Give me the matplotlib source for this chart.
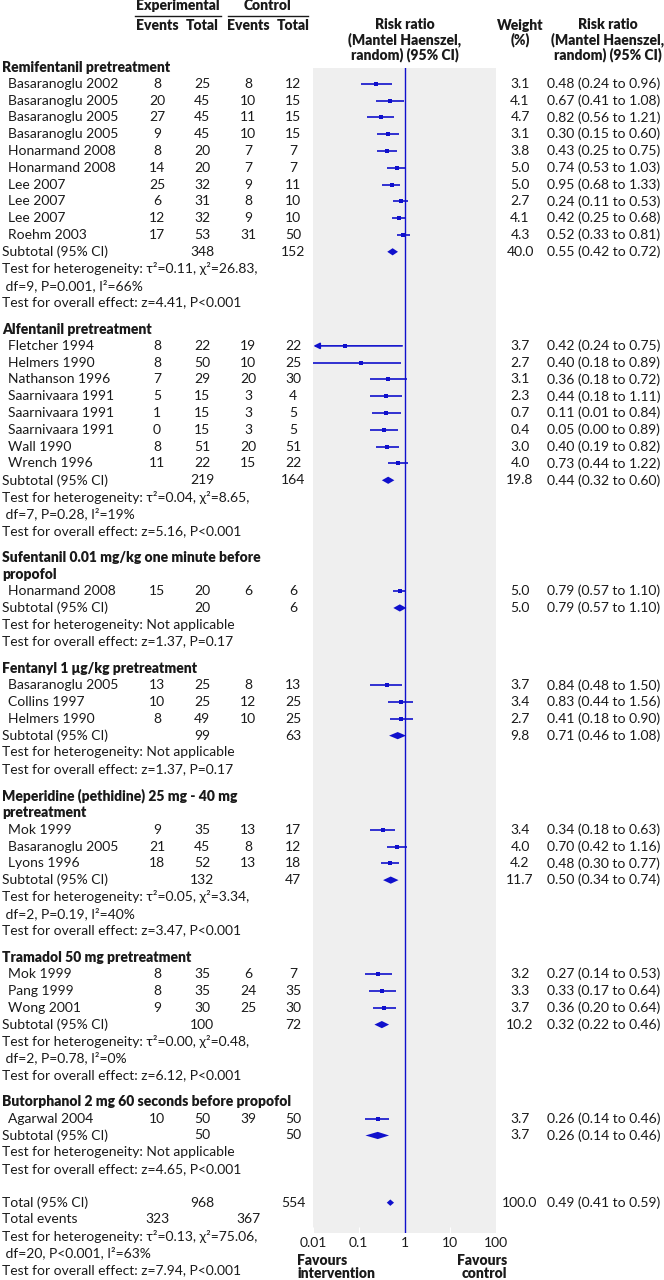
import matplotlib
matplotlib.use("Agg")
from matplotlib import pyplot as plt

# ---- data ----
group_titles = [
    "Remifentanil pretreatment",
    "Alfentanil pretreatment",
    "Sufentanil 0.01 mg/kg one minute before\npropofol",
    "Fentanyl 1 \u03bcg/kg pretreatment",
    "Meperidine (pethidine) 25 mg - 40 mg\npretreatment",
    "Tramadol 50 mg pretreatment",
    "Butorphanol 2 mg 60 seconds before propofol",
]

study_group = [0] * 10 + [1] * 8 + [2] + [3] * 3 + [4] * 3 + [5] * 3 + [6]
study_names = [
    "Basaranoglu 2002", "Basaranoglu 2005", "Basaranoglu 2005", "Basaranoglu 2005",
    "Honarmand 2008", "Honarmand 2008", "Lee 2007", "Lee 2007", "Lee 2007", "Roehm 2003",
    "Fletcher 1994", "Helmers 1990", "Nathanson 1996", "Saarnivaara 1991",
    "Saarnivaara 1991", "Saarnivaara 1991", "Wall 1990", "Wrench 1996",
    "Honarmand 2008",
    "Basaranoglu 2005", "Collins 1997", "Helmers 1990",
    "Mok 1999", "Basaranoglu 2005", "Lyons 1996",
    "Mok 1999", "Pang 1999", "Wong 2001",
    "Agarwal 2004",
]
exp_events = [8, 20, 27, 9, 8, 14, 25, 6, 12, 17, 8, 8, 7, 5, 1, 0, 8, 11, 15, 13, 10, 8, 9, 21, 18, 8, 8, 9, 10]
exp_total = [25, 45, 45, 45, 20, 20, 32, 31, 32, 53, 22, 50, 29, 15, 15, 15, 51, 22, 20, 25, 25, 49, 35, 45, 52, 35, 35, 30, 50]
ctrl_events = [8, 10, 11, 10, 7, 7, 9, 8, 9, 31, 19, 10, 20, 3, 3, 3, 20, 15, 6, 8, 12, 10, 13, 8, 13, 6, 24, 25, 39]
ctrl_total = [12, 15, 15, 15, 7, 7, 11, 10, 10, 50, 22, 25, 30, 4, 5, 5, 51, 22, 6, 13, 25, 25, 17, 12, 18, 7, 35, 30, 50]
weight = [3.1, 4.1, 4.7, 3.1, 3.8, 5.0, 5.0, 2.7, 4.1, 4.3, 3.7, 2.7, 3.1, 2.3, 0.7, 0.4, 3.0, 4.0,
          5.0, 3.7, 3.4, 2.7, 3.4, 4.0, 4.2, 3.2, 3.3, 3.7, 3.7]
rr = [0.48, 0.67, 0.82, 0.30, 0.43, 0.74, 0.95, 0.24, 0.42, 0.52, 0.42, 0.40, 0.36, 0.44, 0.11, 0.05,
      0.40, 0.73, 0.79, 0.84, 0.83, 0.41, 0.34, 0.70, 0.48, 0.27, 0.33, 0.36, 0.26]
rr_lo = [0.24, 0.41, 0.56, 0.15, 0.25, 0.53, 0.68, 0.11, 0.25, 0.33, 0.24, 0.18, 0.18, 0.18, 0.01, 0.00,
         0.19, 0.44, 0.57, 0.48, 0.44, 0.18, 0.18, 0.42, 0.30, 0.14, 0.17, 0.20, 0.14]
rr_hi = [0.96, 1.08, 1.21, 0.60, 0.75, 1.03, 1.33, 0.53, 0.68, 0.81, 0.75, 0.89, 0.72, 1.11, 0.84, 0.89,
         0.82, 1.22, 1.10, 1.50, 1.56, 0.90, 0.63, 1.16, 0.77, 0.53, 0.64, 0.64, 0.46]
# in the published figure the marks of a group are drawn in a different row order
# than the table text; index of the study (within its group) drawn on each row
mark_order = [
    [7, 0, 3, 4, 8, 1, 9, 2, 5, 6],
    [5, 4, 3, 1, 6, 2, 0, 7],
    [0],
    [2, 1, 0],
    [0, 1, 2],
    [0, 1, 2],
    [0],
]

sub_exp_total = [348, 219, 20, 99, 132, 100, 50]
sub_ctrl_total = [152, 164, 6, 63, 47, 72, 50]
sub_weight = [40.0, 19.8, 5.0, 9.8, 11.7, 10.2, 3.7]
sub_rr = [0.55, 0.44, 0.79, 0.71, 0.50, 0.32, 0.26]
sub_lo = [0.42, 0.32, 0.57, 0.46, 0.34, 0.22, 0.14]
sub_hi = [0.72, 0.60, 1.10, 1.08, 0.74, 0.46, 0.46]
het_lines = [
    ["Test for heterogeneity: \u03c4\u00b2=0.11, \u03c7\u00b2=26.83,", " df=9, P=0.001, I\u00b2=66%"],
    ["Test for heterogeneity: \u03c4\u00b2=0.04, \u03c7\u00b2=8.65,", " df=7, P=0.28, I\u00b2=19%"],
    ["Test for heterogeneity: Not applicable"],
    ["Test for heterogeneity: Not applicable"],
    ["Test for heterogeneity: \u03c4\u00b2=0.05, \u03c7\u00b2=3.34,", " df=2, P=0.19, I\u00b2=40%"],
    ["Test for heterogeneity: \u03c4\u00b2=0.00, \u03c7\u00b2=0.48,", " df=2, P=0.78, I\u00b2=0%"],
    ["Test for heterogeneity: Not applicable"],
]
effect_text = ["z=4.41, P<0.001", "z=5.16, P<0.001", "z=1.37, P=0.17", "z=1.37, P=0.17",
               "z=3.47, P<0.001", "z=6.12, P<0.001", "z=4.65, P<0.001"]

total_exp, total_ctrl = 968, 554
total_events_exp, total_events_ctrl = 323, 367
total_weight = 100.0
total_rr, total_lo, total_hi = 0.49, 0.41, 0.59
total_het = ["Test for heterogeneity: \u03c4\u00b2=0.13, \u03c7\u00b2=75.06,", " df=20, P<0.001, I\u00b2=63%"]
total_effect = "z=7.94, P<0.001"

ticks = [0.01, 0.1, 1, 10, 100]
tick_labels = ["0.01", "0.1", "1", "10", "100"]

# ---- style ----
plt.rcParams['font.family'] = ['Lato', 'DejaVu Sans']
FS = 10
BOLD = 'heavy'
BLUE = '#1010cc'
INK = '#1a1a1a'
W, H = 664, 1280
P_TOP, P_BOT, P_L, P_R = 68, 1233, 313, 496
STEP = 16.8
X_NAME, X_EV1, X_TO1, X_EV2, X_TO2, X_W, X_RR = 8, 157, 202, 248, 293, 520, 547

fig = plt.figure(figsize=(W / 100, H / 100), dpi=100)
ax = fig.add_axes([0, 0, 1, 1])
ax.set_xlim(0, W)
ax.set_ylim(H, 0)
ax.axis('off')

fp = fig.add_axes([P_L / W, 1 - P_BOT / H, (P_R - P_L) / W, (P_BOT - P_TOP) / H])
fp.set_xscale('log')
fp.set_xlim(0.01, 100)
fp.set_ylim(P_BOT, P_TOP)
fp.set_facecolor('#efefef')
for s in fp.spines.values():
    s.set_visible(False)
fp.set_yticks([])
fp.set_xticks(ticks)
fp.set_xticklabels(tick_labels)
fp.minorticks_off()
fp.tick_params(axis='x', direction='in', length=4, color='white', labelsize=FS, labelcolor=INK, pad=3)
fp.axvline(1, color=BLUE, lw=1.0)


def txt(x, y, s, ha='left', bold=False, **kw):
    ax.text(x, y, s, ha=ha, va='center', fontsize=FS, color=INK,
            fontweight=BOLD if bold else 'normal', **kw)


def diamond(y, c, lo, hi, h=3.6):
    fp.fill([lo, c, hi, c], [y, y - h, y, y + h], color=BLUE, lw=0)


# ---- header ----
txt(178, 6, "Experimental", ha='center', bold=True)
txt(268, 6, "Control", ha='center', bold=True)
ax.plot([135, 221], [16, 16], color=INK, lw=1)
ax.plot([228, 308], [16, 16], color=INK, lw=1)
for x, s in [(X_EV1, "Events"), (X_TO1, "Total"), (X_EV2, "Events"), (X_TO2, "Total")]:
    txt(x, 26, s, ha='center', bold=True)
ax.text(405, 40, "Risk ratio\n(Mantel Haenszel,\nrandom) (95% CI)", ha='center', va='center',
        fontsize=FS, fontweight=BOLD, color=INK, linespacing=1.05)
ax.text(520, 33, "Weight\n(%)", ha='center', va='center', fontsize=FS, fontweight=BOLD,
        color=INK, linespacing=1.05)
ax.text(608, 40, "Risk ratio\n(Mantel Haenszel,\nrandom) (95% CI)", ha='center', va='center',
        fontsize=FS, fontweight=BOLD, color=INK, linespacing=1.05)

# ---- body ----
y = 67
for g, title in enumerate(group_titles):
    for line in title.split("\n"):
        txt(2, y, line, bold=True)
        y += STEP
    idx = [i for i, sg in enumerate(study_group) if sg == g]
    rows = []
    for i in idx:
        txt(X_NAME, y, study_names[i])
        txt(X_EV1, y, str(exp_events[i]), ha='center')
        txt(X_TO1, y, str(exp_total[i]), ha='center')
        txt(X_EV2, y, str(ctrl_events[i]), ha='center')
        txt(X_TO2, y, str(ctrl_total[i]), ha='center')
        txt(X_W, y, f"{weight[i]:.1f}", ha='center')
        txt(X_RR, y, f"{rr[i]:.2f} ({rr_lo[i]:.2f} to {rr_hi[i]:.2f})")
        rows.append(y)
        y += STEP
    for r, k in enumerate(mark_order[g]):
        i = idx[k]
        yy = rows[r]
        lo = rr_lo[i]
        if lo < 0.01:
            fp.annotate('', xy=(0.0102, yy), xytext=(rr_hi[i], yy),
                        arrowprops=dict(arrowstyle='-|>', color=BLUE, lw=1.2,
                                        mutation_scale=9, shrinkA=0, shrinkB=0))
        else:
            fp.plot([lo, rr_hi[i]], [yy, yy], color=BLUE, lw=1.2, solid_capstyle='butt')
        fp.plot(rr[i], yy, 's', color=BLUE, ms=2.2 + 0.25 * weight[i], mew=0, zorder=3)
    txt(2, y, "Subtotal (95% CI)")
    txt(X_TO1, y, str(sub_exp_total[g]), ha='center')
    txt(X_TO2, y, str(sub_ctrl_total[g]), ha='center')
    txt(X_W, y, f"{sub_weight[g]:.1f}", ha='center')
    txt(X_RR, y, f"{sub_rr[g]:.2f} ({sub_lo[g]:.2f} to {sub_hi[g]:.2f})")
    diamond(y, sub_rr[g], sub_lo[g], sub_hi[g])
    y += STEP
    for line in het_lines[g]:
        txt(2, y, line)
        y += STEP
    txt(2, y, "Test for overall effect: " + effect_text[g])
    y += STEP * 1.6

y += STEP * 0.4
txt(2, y, "Total (95% CI)")
txt(X_TO1, y, str(total_exp), ha='center')
txt(X_TO2, y, str(total_ctrl), ha='center')
txt(X_W, y, f"{total_weight:.1f}", ha='center')
txt(X_RR, y, f"{total_rr:.2f} ({total_lo:.2f} to {total_hi:.2f})")
diamond(y, total_rr, total_lo, total_hi, h=3.2)
y += STEP
txt(2, y, "Total events")
txt(X_EV1, y, str(total_events_exp), ha='center')
txt(X_EV2, y, str(total_events_ctrl), ha='center')
y += STEP
for line in total_het:
    txt(2, y, line)
    y += STEP
txt(2, y, "Test for overall effect: " + total_effect)

ax.text(297, 1267, "Favours\nintervention", ha='left', va='center', fontsize=FS,
        fontweight=BOLD, color=INK, linespacing=1.0)
ax.text(507, 1267, "Favours\ncontrol", ha='right', va='center', fontsize=FS,
        fontweight=BOLD, color=INK, linespacing=1.0, multialignment='right')

fig.savefig("out.png", dpi=100, facecolor='white')
